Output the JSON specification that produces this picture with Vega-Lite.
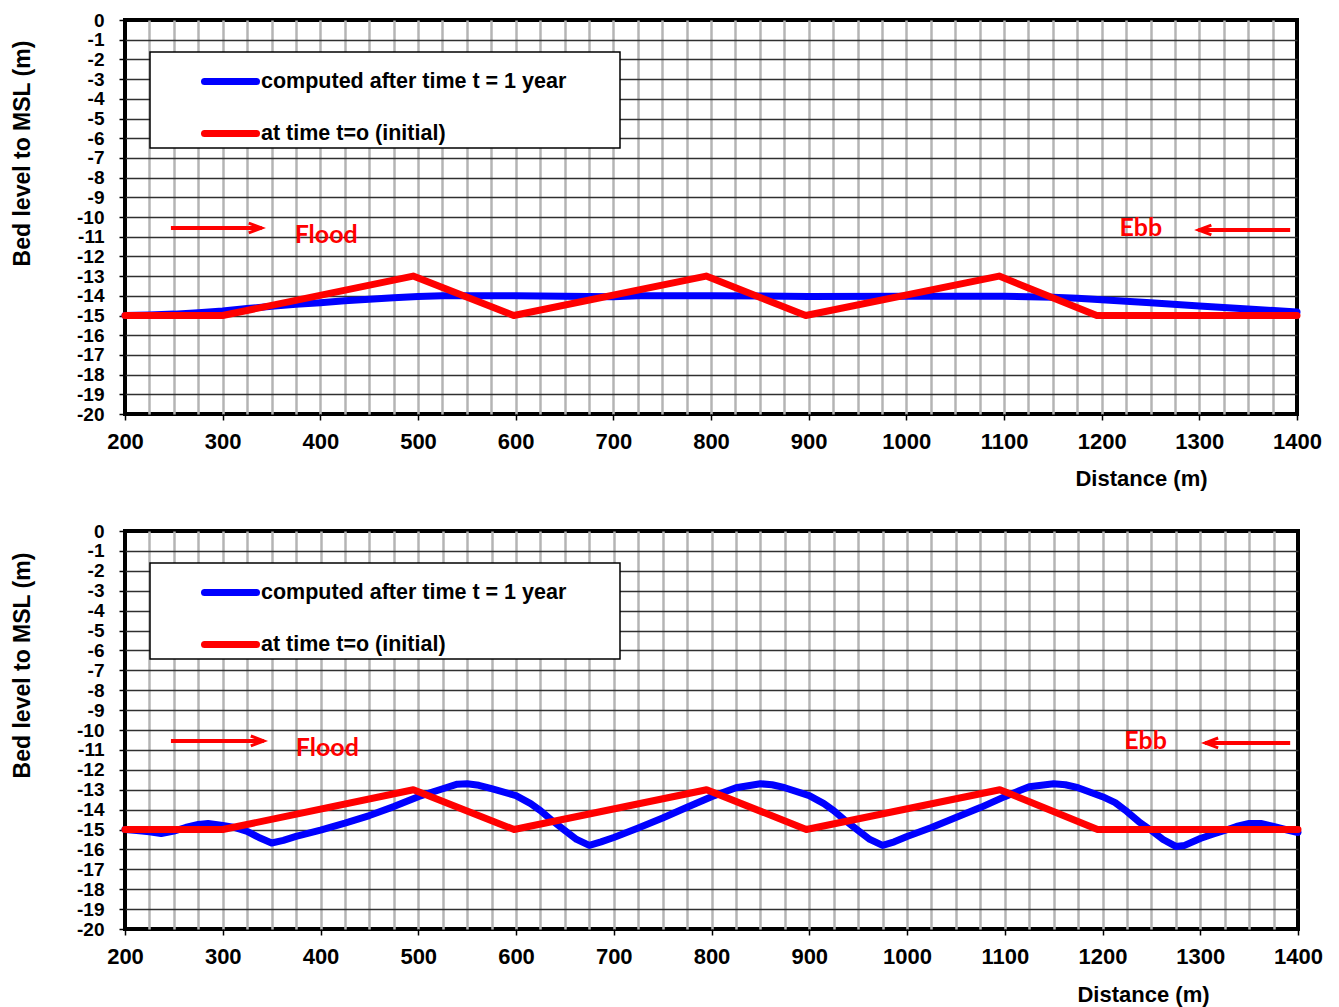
{
  "$schema": "https://vega.github.io/schema/vega-lite/v6.json",
  "background": "white",
  "padding": {"left": 9, "top": 9, "right": 5, "bottom": 5},
  "bounds": "flush",
  "spacing": 117,
  "resolve": {"scale": {"color": "independent", "shape": "independent"}, "legend": {"color": "independent", "shape": "independent"}},
  "config": {
    "view": {"stroke": "black", "strokeWidth": 4},
    "axis": {
      "labelFont": "Liberation Sans", "labelFontWeight": "bold", "labelColor": "black",
      "titleFont": "Liberation Sans", "titleFontWeight": "bold", "titleColor": "black",
      "tickColor": "black", "domain": false, "labelFlush": false, "labelOverlap": false, "labelBound": false
    },
    "legend": {
      "labelFont": "Liberation Sans", "labelFontWeight": "bold", "labelFontSize": 21.5, "labelColor": "black", "labelLimit": 600,
      "strokeColor": "black", "strokeWidth": 1.5, "fillColor": "white", "padding": 0,
      "symbolType": "stroke", "symbolSize": 2704, "symbolStrokeWidth": 7, "symbolOffset": 51,
      "labelOffset": 1, "rowPadding": 8, "titleFontSize": 10, "titlePadding": 54
    }
  },
  "datasets": {
    "top": [
      {"distance": 200, "level": -15.0, "series": "computed after time t = 1 year"},
      {"distance": 225, "level": -14.97, "series": "computed after time t = 1 year"},
      {"distance": 250, "level": -14.93, "series": "computed after time t = 1 year"},
      {"distance": 275, "level": -14.86, "series": "computed after time t = 1 year"},
      {"distance": 300, "level": -14.77, "series": "computed after time t = 1 year"},
      {"distance": 325, "level": -14.65, "series": "computed after time t = 1 year"},
      {"distance": 350, "level": -14.53, "series": "computed after time t = 1 year"},
      {"distance": 375, "level": -14.43, "series": "computed after time t = 1 year"},
      {"distance": 400, "level": -14.35, "series": "computed after time t = 1 year"},
      {"distance": 425, "level": -14.25, "series": "computed after time t = 1 year"},
      {"distance": 450, "level": -14.18, "series": "computed after time t = 1 year"},
      {"distance": 475, "level": -14.1, "series": "computed after time t = 1 year"},
      {"distance": 500, "level": -14.03, "series": "computed after time t = 1 year"},
      {"distance": 525, "level": -14.0, "series": "computed after time t = 1 year"},
      {"distance": 600, "level": -14.0, "series": "computed after time t = 1 year"},
      {"distance": 700, "level": -14.05, "series": "computed after time t = 1 year"},
      {"distance": 725, "level": -14.0, "series": "computed after time t = 1 year"},
      {"distance": 800, "level": -14.0, "series": "computed after time t = 1 year"},
      {"distance": 900, "level": -14.03, "series": "computed after time t = 1 year"},
      {"distance": 1000, "level": -14.02, "series": "computed after time t = 1 year"},
      {"distance": 1100, "level": -14.02, "series": "computed after time t = 1 year"},
      {"distance": 1150, "level": -14.07, "series": "computed after time t = 1 year"},
      {"distance": 1175, "level": -14.12, "series": "computed after time t = 1 year"},
      {"distance": 1200, "level": -14.2, "series": "computed after time t = 1 year"},
      {"distance": 1250, "level": -14.35, "series": "computed after time t = 1 year"},
      {"distance": 1300, "level": -14.52, "series": "computed after time t = 1 year"},
      {"distance": 1350, "level": -14.67, "series": "computed after time t = 1 year"},
      {"distance": 1400, "level": -14.82, "series": "computed after time t = 1 year"},
      {"distance": 200, "level": -15, "series": "at time t=o (initial)"},
      {"distance": 300, "level": -15, "series": "at time t=o (initial)"},
      {"distance": 495, "level": -13, "series": "at time t=o (initial)"},
      {"distance": 598, "level": -15, "series": "at time t=o (initial)"},
      {"distance": 795, "level": -13, "series": "at time t=o (initial)"},
      {"distance": 897, "level": -15, "series": "at time t=o (initial)"},
      {"distance": 1095, "level": -13, "series": "at time t=o (initial)"},
      {"distance": 1195, "level": -15, "series": "at time t=o (initial)"},
      {"distance": 1400, "level": -15, "series": "at time t=o (initial)"}
    ],
    "bottom": [
      {"distance": 200, "level": -15.0, "series": "computed after time t = 1 year"},
      {"distance": 212, "level": -15.05, "series": "computed after time t = 1 year"},
      {"distance": 225, "level": -15.12, "series": "computed after time t = 1 year"},
      {"distance": 237, "level": -15.2, "series": "computed after time t = 1 year"},
      {"distance": 250, "level": -15.08, "series": "computed after time t = 1 year"},
      {"distance": 262, "level": -14.9, "series": "computed after time t = 1 year"},
      {"distance": 275, "level": -14.75, "series": "computed after time t = 1 year"},
      {"distance": 285, "level": -14.7, "series": "computed after time t = 1 year"},
      {"distance": 300, "level": -14.8, "series": "computed after time t = 1 year"},
      {"distance": 312, "level": -14.9, "series": "computed after time t = 1 year"},
      {"distance": 325, "level": -15.1, "series": "computed after time t = 1 year"},
      {"distance": 337, "level": -15.4, "series": "computed after time t = 1 year"},
      {"distance": 350, "level": -15.68, "series": "computed after time t = 1 year"},
      {"distance": 362, "level": -15.55, "series": "computed after time t = 1 year"},
      {"distance": 375, "level": -15.35, "series": "computed after time t = 1 year"},
      {"distance": 400, "level": -15.03, "series": "computed after time t = 1 year"},
      {"distance": 425, "level": -14.68, "series": "computed after time t = 1 year"},
      {"distance": 450, "level": -14.3, "series": "computed after time t = 1 year"},
      {"distance": 475, "level": -13.85, "series": "computed after time t = 1 year"},
      {"distance": 500, "level": -13.35, "series": "computed after time t = 1 year"},
      {"distance": 525, "level": -12.95, "series": "computed after time t = 1 year"},
      {"distance": 540, "level": -12.72, "series": "computed after time t = 1 year"},
      {"distance": 550, "level": -12.7, "series": "computed after time t = 1 year"},
      {"distance": 562, "level": -12.78, "series": "computed after time t = 1 year"},
      {"distance": 575, "level": -12.95, "series": "computed after time t = 1 year"},
      {"distance": 600, "level": -13.3, "series": "computed after time t = 1 year"},
      {"distance": 615, "level": -13.7, "series": "computed after time t = 1 year"},
      {"distance": 625, "level": -14.05, "series": "computed after time t = 1 year"},
      {"distance": 637, "level": -14.55, "series": "computed after time t = 1 year"},
      {"distance": 650, "level": -15.05, "series": "computed after time t = 1 year"},
      {"distance": 662, "level": -15.5, "series": "computed after time t = 1 year"},
      {"distance": 675, "level": -15.8, "series": "computed after time t = 1 year"},
      {"distance": 687, "level": -15.62, "series": "computed after time t = 1 year"},
      {"distance": 700, "level": -15.4, "series": "computed after time t = 1 year"},
      {"distance": 725, "level": -14.92, "series": "computed after time t = 1 year"},
      {"distance": 750, "level": -14.42, "series": "computed after time t = 1 year"},
      {"distance": 775, "level": -13.88, "series": "computed after time t = 1 year"},
      {"distance": 800, "level": -13.35, "series": "computed after time t = 1 year"},
      {"distance": 825, "level": -12.9, "series": "computed after time t = 1 year"},
      {"distance": 850, "level": -12.7, "series": "computed after time t = 1 year"},
      {"distance": 862, "level": -12.75, "series": "computed after time t = 1 year"},
      {"distance": 875, "level": -12.9, "series": "computed after time t = 1 year"},
      {"distance": 900, "level": -13.3, "series": "computed after time t = 1 year"},
      {"distance": 915, "level": -13.7, "series": "computed after time t = 1 year"},
      {"distance": 925, "level": -14.05, "series": "computed after time t = 1 year"},
      {"distance": 937, "level": -14.55, "series": "computed after time t = 1 year"},
      {"distance": 950, "level": -15.05, "series": "computed after time t = 1 year"},
      {"distance": 962, "level": -15.5, "series": "computed after time t = 1 year"},
      {"distance": 975, "level": -15.8, "series": "computed after time t = 1 year"},
      {"distance": 987, "level": -15.62, "series": "computed after time t = 1 year"},
      {"distance": 1000, "level": -15.35, "series": "computed after time t = 1 year"},
      {"distance": 1025, "level": -14.9, "series": "computed after time t = 1 year"},
      {"distance": 1050, "level": -14.4, "series": "computed after time t = 1 year"},
      {"distance": 1075, "level": -13.9, "series": "computed after time t = 1 year"},
      {"distance": 1100, "level": -13.35, "series": "computed after time t = 1 year"},
      {"distance": 1125, "level": -12.85, "series": "computed after time t = 1 year"},
      {"distance": 1150, "level": -12.7, "series": "computed after time t = 1 year"},
      {"distance": 1162, "level": -12.75, "series": "computed after time t = 1 year"},
      {"distance": 1175, "level": -12.9, "series": "computed after time t = 1 year"},
      {"distance": 1200, "level": -13.35, "series": "computed after time t = 1 year"},
      {"distance": 1213, "level": -13.65, "series": "computed after time t = 1 year"},
      {"distance": 1225, "level": -14.1, "series": "computed after time t = 1 year"},
      {"distance": 1237, "level": -14.6, "series": "computed after time t = 1 year"},
      {"distance": 1250, "level": -15.05, "series": "computed after time t = 1 year"},
      {"distance": 1262, "level": -15.5, "series": "computed after time t = 1 year"},
      {"distance": 1275, "level": -15.85, "series": "computed after time t = 1 year"},
      {"distance": 1284, "level": -15.8, "series": "computed after time t = 1 year"},
      {"distance": 1300, "level": -15.45, "series": "computed after time t = 1 year"},
      {"distance": 1312, "level": -15.25, "series": "computed after time t = 1 year"},
      {"distance": 1325, "level": -15.05, "series": "computed after time t = 1 year"},
      {"distance": 1337, "level": -14.85, "series": "computed after time t = 1 year"},
      {"distance": 1350, "level": -14.7, "series": "computed after time t = 1 year"},
      {"distance": 1362, "level": -14.7, "series": "computed after time t = 1 year"},
      {"distance": 1375, "level": -14.85, "series": "computed after time t = 1 year"},
      {"distance": 1387, "level": -15.0, "series": "computed after time t = 1 year"},
      {"distance": 1400, "level": -15.15, "series": "computed after time t = 1 year"},
      {"distance": 200, "level": -15, "series": "at time t=o (initial)"},
      {"distance": 300, "level": -15, "series": "at time t=o (initial)"},
      {"distance": 495, "level": -13, "series": "at time t=o (initial)"},
      {"distance": 598, "level": -15, "series": "at time t=o (initial)"},
      {"distance": 795, "level": -13, "series": "at time t=o (initial)"},
      {"distance": 897, "level": -15, "series": "at time t=o (initial)"},
      {"distance": 1095, "level": -13, "series": "at time t=o (initial)"},
      {"distance": 1195, "level": -15, "series": "at time t=o (initial)"},
      {"distance": 1400, "level": -15, "series": "at time t=o (initial)"}
    ],
    "arrows_top": [
      {"distance": 247, "distance2": 340, "level": -10.56},
      {"distance": 1393, "distance2": 1299, "level": -10.66}
    ],
    "heads_top": [
      {"distance": 340, "level": -10.56, "dir": "right"},
      {"distance": 1299, "level": -10.66, "dir": "left"}
    ],
    "labels_top": [
      {"distance": 406, "level": -10.9, "label": "Flood"},
      {"distance": 1240, "level": -10.56, "label": "Ebb"}
    ],
    "arrows_bottom": [
      {"distance": 247, "distance2": 342, "level": -10.55},
      {"distance": 1392, "distance2": 1305, "level": -10.65}
    ],
    "heads_bottom": [
      {"distance": 342, "level": -10.55, "dir": "right"},
      {"distance": 1305, "level": -10.65, "dir": "left"}
    ],
    "labels_bottom": [
      {"distance": 407, "level": -10.9, "label": "Flood"},
      {"distance": 1244, "level": -10.55, "label": "Ebb"}
    ]
  },
  "vconcat": [
    {
      "width": 1172, "height": 394,
      "encoding": {
        "x": {"field": "distance", "type": "quantitative", "title": "Distance (m)",
          "scale": {"domain": [200, 1400], "nice": false, "zero": false},
          "axis": {"values": [200,225,250,275,300,325,350,375,400,425,450,475,500,525,550,575,600,625,650,675,700,725,750,775,800,825,850,875,900,925,950,975,1000,1025,1050,1075,1100,1125,1150,1175,1200,1225,1250,1275,1300,1325,1350,1375,1400],
            "labelExpr": "datum.value % 100 === 0 ? '' + datum.value : ''",
            "labelFontSize": 22, "labelPadding": 11, "tickSize": 6, "tickWidth": 1.5,
            "tickOpacity": {"condition": {"test": "datum.value % 100 === 0", "value": 1}, "value": 0},
            "gridColor": "#b4b4b4", "gridWidth": 2.5,
            "gridOpacity": {"condition": {"test": "datum.value === 200 || datum.value === 1400", "value": 0}, "value": 1},
            "titleFontSize": 22, "titleX": 1016, "titleY": 64, "titleAlign": "center", "titleBaseline": "middle"}},
        "y": {"field": "level", "type": "quantitative", "title": "Bed level to MSL (m)",
          "scale": {"domain": [-20, 0], "nice": false, "zero": false},
          "axis": {"values": [-20,-19,-18,-17,-16,-15,-14,-13,-12,-11,-10,-9,-8,-7,-6,-5,-4,-3,-2,-1,0],
            "labelExpr": "datum.value < 0 ? '-' + abs(datum.value) : '' + datum.value",
            "labelFontSize": 19, "labelPadding": 15, "tickSize": 6, "tickWidth": 1.5,
            "gridColor": "#303030", "gridWidth": 1.6,
            "gridOpacity": {"condition": {"test": "datum.value === 0 || datum.value === -20", "value": 0}, "value": 1},
            "titleFontSize": 23, "titleAngle": 270, "titleX": -103, "titleY": 133, "titleAlign": "center", "titleBaseline": "middle"}}
      },
      "layer": [
        {
          "data": {"name": "top"},
          "mark": {"type": "line", "strokeWidth": 7, "strokeCap": "round", "strokeJoin": "round"},
          "encoding": {
            "color": {"field": "series", "type": "nominal",
              "scale": {"domain": ["computed after time t = 1 year", "at time t=o (initial)"], "range": ["#0000ff", "#ff0000"]},
              "legend": {"orient": "none", "legendX": 25, "legendY": 32, "title": " ", "titleOrient": "right",
                "encode": {"symbols": {"update": {"strokeCap": {"value": "round"}}}}}}
          }
        },
        {
          "data": {"name": "arrows_top"},
          "mark": {"type": "rule", "color": "#ff0000", "strokeWidth": 4},
          "encoding": {"x2": {"field": "distance2"}}
        },
        {
          "data": {"name": "heads_top"},
          "mark": {"type": "point", "filled": false, "color": "#ff0000", "strokeWidth": 3, "size": 676, "opacity": 1},
          "encoding": {
            "shape": {"field": "dir", "type": "nominal", "scale": {"domain": ["right", "left"], "range": ["M-1,-0.38L0,0L-1,0.38", "M1,-0.38L0,0L1,0.38"]}, "legend": null}
          }
        },
        {
          "data": {"name": "labels_top"},
          "mark": {"type": "text", "color": "#ff0000", "font": "Lato", "fontWeight": "bold", "fontSize": 25, "align": "center", "baseline": "middle"},
          "encoding": {"text": {"field": "label"}}
        }
      ]
    },
    {
      "width": 1173, "height": 398,
      "encoding": {
        "x": {"field": "distance", "type": "quantitative", "title": "Distance (m)",
          "scale": {"domain": [200, 1400], "nice": false, "zero": false},
          "axis": {"values": [200,225,250,275,300,325,350,375,400,425,450,475,500,525,550,575,600,625,650,675,700,725,750,775,800,825,850,875,900,925,950,975,1000,1025,1050,1075,1100,1125,1150,1175,1200,1225,1250,1275,1300,1325,1350,1375,1400],
            "labelExpr": "datum.value % 100 === 0 ? '' + datum.value : ''",
            "labelFontSize": 22, "labelPadding": 11, "tickSize": 6, "tickWidth": 1.5,
            "tickOpacity": {"condition": {"test": "datum.value % 100 === 0", "value": 1}, "value": 0},
            "gridColor": "#b4b4b4", "gridWidth": 2.5,
            "gridOpacity": {"condition": {"test": "datum.value === 200 || datum.value === 1400", "value": 0}, "value": 1},
            "titleFontSize": 22, "titleX": 1018, "titleY": 65, "titleAlign": "center", "titleBaseline": "middle"}},
        "y": {"field": "level", "type": "quantitative", "title": "Bed level to MSL (m)",
          "scale": {"domain": [-20, 0], "nice": false, "zero": false},
          "axis": {"values": [-20,-19,-18,-17,-16,-15,-14,-13,-12,-11,-10,-9,-8,-7,-6,-5,-4,-3,-2,-1,0],
            "labelExpr": "datum.value < 0 ? '-' + abs(datum.value) : '' + datum.value",
            "labelFontSize": 19, "labelPadding": 15, "tickSize": 6, "tickWidth": 1.5,
            "gridColor": "#303030", "gridWidth": 1.6,
            "gridOpacity": {"condition": {"test": "datum.value === 0 || datum.value === -20", "value": 0}, "value": 1},
            "titleFontSize": 23, "titleAngle": 270, "titleX": -103, "titleY": 134, "titleAlign": "center", "titleBaseline": "middle"}}
      },
      "layer": [
        {
          "data": {"name": "bottom"},
          "mark": {"type": "line", "strokeWidth": 7, "strokeCap": "round", "strokeJoin": "round"},
          "encoding": {
            "color": {"field": "series", "type": "nominal",
              "scale": {"domain": ["computed after time t = 1 year", "at time t=o (initial)"], "range": ["#0000ff", "#ff0000"]},
              "legend": {"orient": "none", "legendX": 25, "legendY": 32, "title": " ", "titleOrient": "right",
                "encode": {"symbols": {"update": {"strokeCap": {"value": "round"}}}}}}
          }
        },
        {
          "data": {"name": "arrows_bottom"},
          "mark": {"type": "rule", "color": "#ff0000", "strokeWidth": 4},
          "encoding": {"x2": {"field": "distance2"}}
        },
        {
          "data": {"name": "heads_bottom"},
          "mark": {"type": "point", "filled": false, "color": "#ff0000", "strokeWidth": 3, "size": 676, "opacity": 1},
          "encoding": {
            "shape": {"field": "dir", "type": "nominal", "scale": {"domain": ["right", "left"], "range": ["M-1,-0.38L0,0L-1,0.38", "M1,-0.38L0,0L1,0.38"]}, "legend": null}
          }
        },
        {
          "data": {"name": "labels_bottom"},
          "mark": {"type": "text", "color": "#ff0000", "font": "Lato", "fontWeight": "bold", "fontSize": 25, "align": "center", "baseline": "middle"},
          "encoding": {"text": {"field": "label"}}
        }
      ]
    }
  ]
}
